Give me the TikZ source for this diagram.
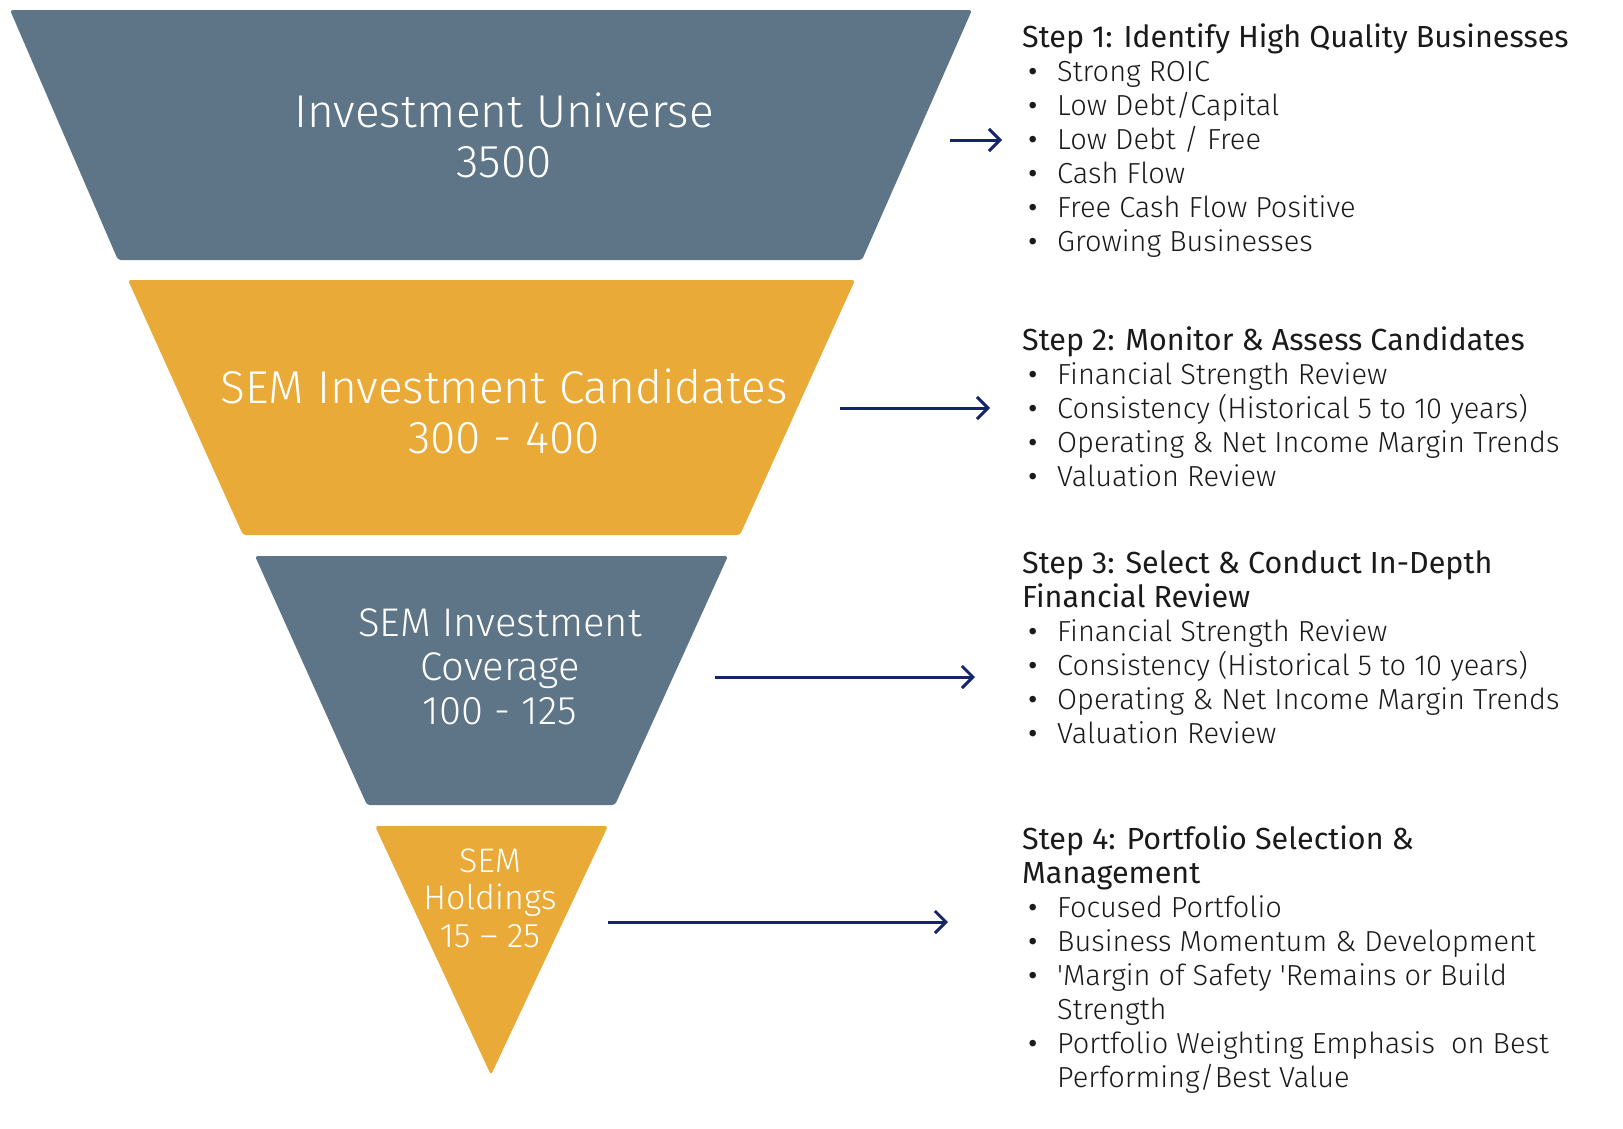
\documentclass[tikz,border=0pt]{standalone}
\usepackage{fontspec}
\setmainfont{Fira Sans}
\newfontfamily\lightfont{Fira Sans Light}
\usetikzlibrary{arrows.meta}
\definecolor{slate}{HTML}{5D7586}
\definecolor{gold}{HTML}{EAAA37}
\definecolor{navy}{HTML}{14256B}
\definecolor{ink}{HTML}{1A1A1A}
\tikzset{
  layer/.style={rounded corners=3pt},
  label/.style={text=white,align=center,inner sep=0pt,font=\lightfont},
  flow/.style={draw=navy,line width=3pt,-{Straight Barb[length=11pt,width=22pt]}},
  steptext/.style={anchor=north west,align=left,inner sep=0pt,text=ink,font=\fontsize{29}{34}\selectfont},
}
\newcommand\steptitle[1]{{\fontsize{30.5}{34}\selectfont #1}}
\newcommand\pitem[1]{\hspace*{6pt}\makebox[29pt][l]{\textbullet}{\lightfont #1}}

\begin{document}
\begin{tikzpicture}[x=1pt,y=-1pt]
  \useasboundingbox (0,0) rectangle (1623,1128);

  % funnel layers
  \fill[slate,layer] (10,10) -- (972,10) -- (862,260) -- (118,260) -- cycle;
  \fill[gold,layer] (128,280) -- (855,280) -- (740,535) -- (243,535) -- cycle;
  \fill[slate,layer] (255,556) -- (728,556) -- (615,805) -- (367,805) -- cycle;
  \fill[gold,layer] (375,826) -- (608,826) -- (491,1075) -- cycle;

  \node[label,font=\lightfont\fontsize{46}{50}\selectfont] (universe) at (504,135) {Investment Universe\\3500};
  \node[label,font=\lightfont\fontsize{46}{50}\selectfont] (candidates) at (504,411) {SEM Investment Candidates\\300 - 400};
  \node[label,font=\lightfont\fontsize{40}{44}\selectfont] (coverage) at (500,667) {SEM Investment\\Coverage\\100 - 125};
  \node[label,font=\lightfont\fontsize{34}{37.5}\selectfont] (holdings) at (490,898) {SEM\\Holdings\\15 – 25};

  % arrows
  \coordinate (a1s) at (950,140); \coordinate (a1e) at (1002,140);
  \coordinate (a2s) at (840,408); \coordinate (a2e) at (990,408);
  \coordinate (a3s) at (715,677); \coordinate (a3e) at (975,677);
  \coordinate (a4s) at (608,922); \coordinate (a4e) at (948,922);
  \foreach \i in {1,...,4}
    \draw[flow] (a\i s) -- (a\i e);

  % step descriptions
  \node[steptext] (step1) at (1022,24) {\steptitle{Step 1: Identify High Quality Businesses}\\
    \pitem{Strong ROIC}\\
    \pitem{Low Debt/Capital}\\
    \pitem{Low Debt / Free}\\
    \pitem{Cash Flow}\\
    \pitem{Free Cash Flow Positive}\\
    \pitem{Growing Businesses}};
  \node[steptext] (step2) at (1022,327) {\steptitle{Step 2: Monitor \& Assess Candidates}\\
    \pitem{Financial Strength Review}\\
    \pitem{Consistency (Historical 5 to 10 years)}\\
    \pitem{Operating \& Net Income Margin Trends}\\
    \pitem{Valuation Review}};
  \node[steptext] (step3) at (1022,550) {\steptitle{Step 3: Select \& Conduct In-Depth}\\\steptitle{Financial Review}\\
    \pitem{Financial Strength Review}\\
    \pitem{Consistency (Historical 5 to 10 years)}\\
    \pitem{Operating \& Net Income Margin Trends}\\
    \pitem{Valuation Review}};
  \node[steptext] (step4) at (1022,825) {\steptitle{Step 4: Portfolio Selection \&}\\\steptitle{Management}\\
    \pitem{Focused Portfolio}\\
    \pitem{Business Momentum \& Development}\\
    \pitem{'Margin of Safety 'Remains or Build}\\
    \hspace*{35pt}{\lightfont Strength}\\
    \pitem{Portfolio Weighting Emphasis\ \ on Best}\\
    \hspace*{35pt}{\lightfont Performing/Best Value}};
\end{tikzpicture}
\end{document}
